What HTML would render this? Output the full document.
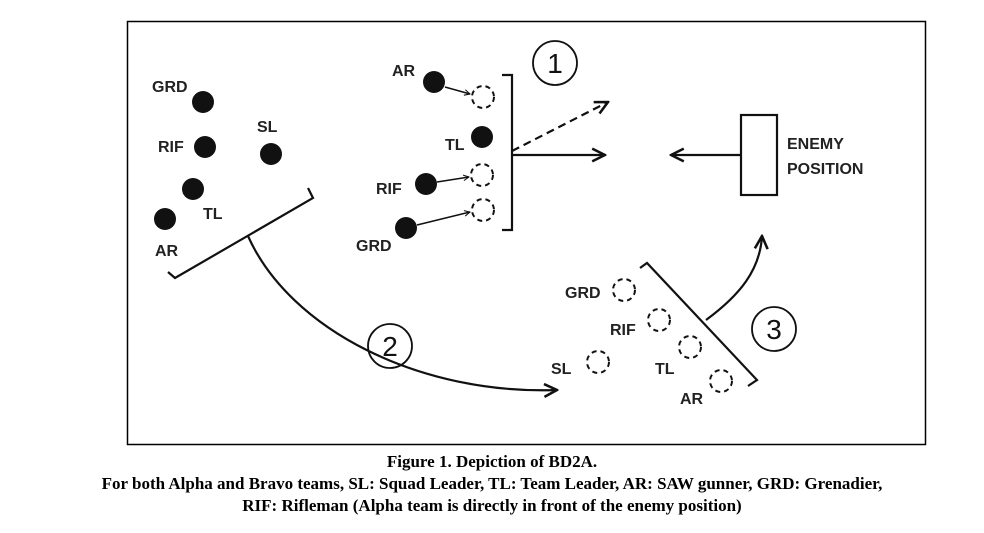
<!DOCTYPE html>
<html><head><style>
html,body{margin:0;padding:0;background:#fff;}
svg{display:block;}
.l{font-family:"Liberation Sans",sans-serif;font-weight:bold;font-size:16px;fill:#222;}
.c{font-family:"Liberation Serif",serif;font-weight:bold;font-size:17px;fill:#000;}
.n{font-family:"Liberation Sans",sans-serif;font-size:28px;fill:#111;}
</style></head><body>
<svg width="984" height="533" viewBox="0 0 984 533" xmlns="http://www.w3.org/2000/svg">
<defs>
<marker id="a" viewBox="0 0 10 10" refX="9" refY="5" markerWidth="7" markerHeight="7" orient="auto" markerUnits="userSpaceOnUse">
<path d="M1,1 L9,5 L1,9" fill="none" stroke="#111" stroke-width="1.5"/></marker>
<marker id="b" viewBox="0 0 10 10" refX="9" refY="5" markerWidth="16" markerHeight="16" orient="auto" markerUnits="userSpaceOnUse">
<path d="M1,1 L9,5 L1,9" fill="none" stroke="#111" stroke-width="1.6"/></marker>
</defs>
<rect x="127.5" y="21.5" width="798" height="423" fill="none" stroke="#000" stroke-width="1.5"/>
<g fill="#111">
<circle cx="203" cy="102" r="11"/><circle cx="205" cy="147" r="11"/><circle cx="271" cy="154" r="11"/>
<circle cx="193" cy="189" r="11"/><circle cx="165" cy="219" r="11"/>
<circle cx="434" cy="82" r="11"/><circle cx="482" cy="137" r="11"/><circle cx="426" cy="184" r="11"/><circle cx="406" cy="228" r="11"/>
</g>
<g class="l">
<text x="152" y="92">GRD</text><text x="158" y="152">RIF</text><text x="257" y="132">SL</text>
<text x="203" y="219">TL</text><text x="155" y="256">AR</text>
<text x="392" y="76">AR</text><text x="445" y="150">TL</text><text x="376" y="194">RIF</text><text x="356" y="251">GRD</text>
<text x="565" y="298">GRD</text><text x="610" y="335">RIF</text><text x="655" y="374">TL</text><text x="680" y="404">AR</text><text x="551" y="374">SL</text>
<text x="787" y="149">ENEMY</text><text x="787" y="174">POSITION</text>
</g>
<g fill="none" stroke="#111" stroke-width="2" stroke-dasharray="5,4">
<circle cx="483" cy="97" r="11"/><circle cx="482" cy="175" r="11"/><circle cx="483" cy="210" r="11"/>
<circle cx="624" cy="290" r="11"/><circle cx="659" cy="320" r="11"/><circle cx="690" cy="347" r="11"/><circle cx="721" cy="381" r="11"/><circle cx="598" cy="362" r="11"/>
</g>
<g fill="none" stroke="#111" stroke-width="2.2">
<path d="M168,272 L175,278 L313,198 L308,188"/>
<path d="M248,236 C290,330 420,395 557,390" marker-end="url(#b)"/>
<path d="M502,75 L512,75 L512,230 L502,230"/>
<path d="M512,155 L605,155" marker-end="url(#b)"/>
<path d="M512,151 L608,102" stroke-dasharray="8,5" marker-end="url(#b)"/>
<rect x="741" y="115" width="36" height="80"/>
<path d="M741,155 L671,155" marker-end="url(#b)"/>
<path d="M640,268 L647,263 L757,380 L748,386"/>
<path d="M706,320 C740,295 760,270 762,236" marker-end="url(#b)"/>
<circle cx="555" cy="63" r="22" stroke-width="1.8"/>
<circle cx="390" cy="346" r="22" stroke-width="1.8"/>
<circle cx="774" cy="329" r="22" stroke-width="1.8"/>
</g>
<g fill="none" stroke="#111" stroke-width="1.5">
<path d="M445,87 L470,94" marker-end="url(#a)"/>
<path d="M437,182 L469,177" marker-end="url(#a)"/>
<path d="M417,225 L470,212" marker-end="url(#a)"/>
</g>
<g class="n" text-anchor="middle">
<text x="555" y="73">1</text><text x="390" y="356">2</text><text x="774" y="339">3</text>
</g>
<g class="c" text-anchor="middle">
<text x="492" y="467">Figure 1. Depiction of BD2A.</text>
<text x="492" y="489">For both Alpha and Bravo teams, SL: Squad Leader, TL: Team Leader, AR: SAW gunner, GRD: Grenadier,</text>
<text x="492" y="511">RIF: Rifleman (Alpha team is directly in front of the enemy position)</text>
</g>
</svg>
</body></html>
